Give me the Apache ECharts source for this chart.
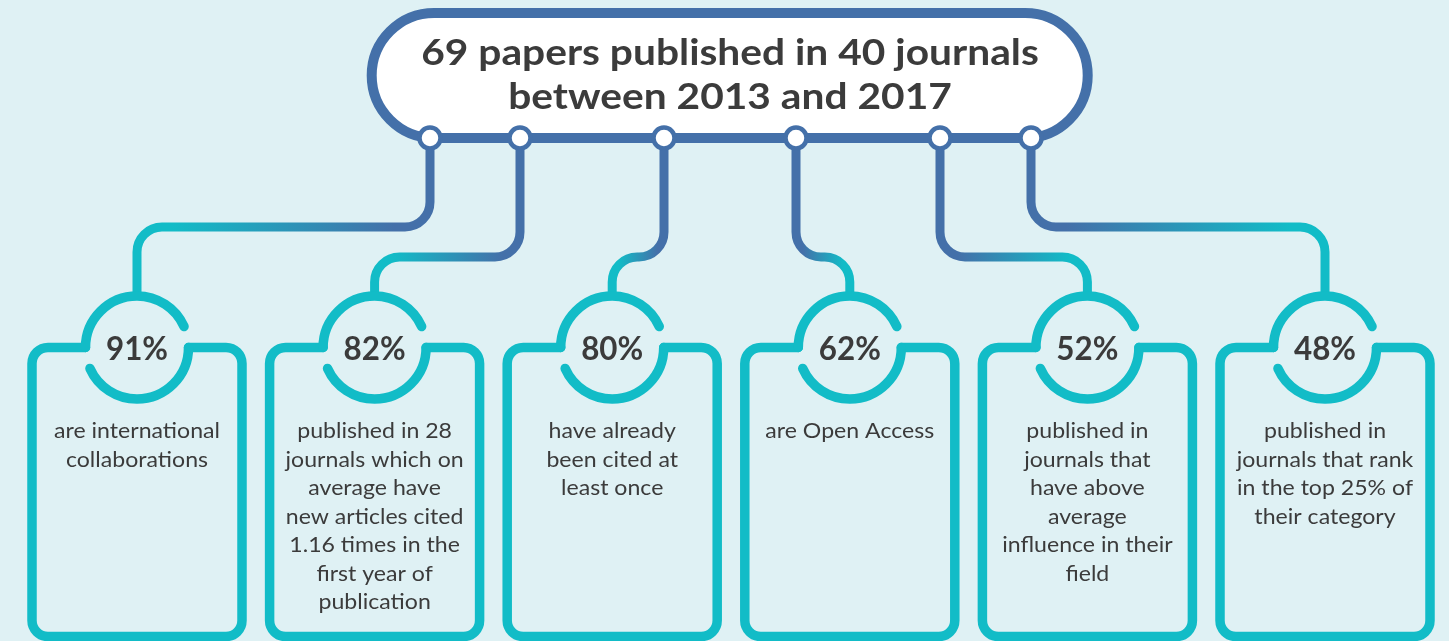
<!DOCTYPE html>
<html>
<head>
<meta charset="utf-8">
<script src="https://cdn.jsdelivr.net/npm/echarts@6/dist/echarts.min.js"></script>
<style>
  html, body { margin: 0; padding: 0; background: #dff1f4; }
  #chart { width: 1449px; height: 641px; }
</style>
</head>
<body>
<div id="chart"></div>
<script>
// ---- data ----
const titleLines = ['69 papers published in 40 journals', 'between 2013 and 2017'];
const percents = ['91%', '82%', '80%', '62%', '52%', '48%'];
const descriptions = [
  ['are international', 'collaborations'],
  ['published in 28', 'journals which on', 'average have', 'new articles cited', '1.16 times in the', 'first year of', 'publication'],
  ['have already', 'been cited at', 'least once'],
  ['are Open Access'],
  ['published in', 'journals that', 'have above', 'average', 'influence in their', 'field'],
  ['published in', 'journals that rank', 'in the top 25% of', 'their category']
];

// ---- layout / style ----
const BLUE = '#4470a9';
const TEAL = '#12bcc7';
const TEXT = '#3b3b3b';
const FONT = 'Lato, "Noto Sans", sans-serif';
const nodeX = [430, 520, 664, 796, 940, 1031];
const nodeY = 138;
const hY = [227, 257, 257, 257, 257, 227];
const box0 = 137, boxStep = 237.6, boxHalfW = 105;
const boxTop = 347.5, boxBottom = 636.5, boxR = 16;
const ringR = 51.5;
const rc = 25;

function connectorPath(nx, cx, hy) {
  const dir = cx < nx ? -1 : 1;
  const s1 = dir < 0 ? 1 : 0, s2 = dir < 0 ? 0 : 1;
  const endY = boxTop - ringR;
  return 'M' + nx + ' ' + nodeY +
    ' L' + nx + ' ' + (hy - rc) +
    ' A' + rc + ' ' + rc + ' 0 0 ' + s1 + ' ' + (nx + dir * rc) + ' ' + hy +
    ' L' + (cx - dir * rc) + ' ' + hy +
    ' A' + rc + ' ' + rc + ' 0 0 ' + s2 + ' ' + cx + ' ' + (hy + rc) +
    ' L' + cx + ' ' + endY;
}

function boxPath(cx) {
  const l = cx - boxHalfW, r = cx + boxHalfW, t = boxTop, b = boxBottom, k = boxR;
  return 'M' + (cx - ringR) + ' ' + t +
    ' L' + (l + k) + ' ' + t +
    ' A' + k + ' ' + k + ' 0 0 0 ' + l + ' ' + (t + k) +
    ' L' + l + ' ' + (b - k) +
    ' A' + k + ' ' + k + ' 0 0 0 ' + (l + k) + ' ' + b +
    ' L' + (r - k) + ' ' + b +
    ' A' + k + ' ' + k + ' 0 0 0 ' + r + ' ' + (b - k) +
    ' L' + r + ' ' + (t + k) +
    ' A' + k + ' ' + k + ' 0 0 0 ' + (r - k) + ' ' + t +
    ' L' + (cx + ringR) + ' ' + t;
}

function ringPaths(cx) {
  const cy = boxTop, R = ringR;
  const a1 = 24 * Math.PI / 180, a2 = 24 * Math.PI / 180;
  const top = 'M' + (cx - R) + ' ' + cy +
    ' A' + R + ' ' + R + ' 0 0 1 ' + (cx + R * Math.cos(a1)) + ' ' + (cy - R * Math.sin(a1));
  const bottom = 'M' + (cx + R) + ' ' + cy +
    ' A' + R + ' ' + R + ' 0 0 1 ' + (cx - R * Math.cos(a2)) + ' ' + (cy + R * Math.sin(a2));
  return [top, bottom];
}

const chart = echarts.init(document.getElementById('chart'), null, { renderer: 'canvas' });

const option = {
  backgroundColor: '#dff1f4',
  animation: false,
  graphic: [
    {
      type: 'rect', z: 0,
      shape: { x: 371.7, y: 13, width: 716, height: 125, r: 62.5 },
      style: { fill: '#ffffff', stroke: BLUE, lineWidth: 10 }
    },
    {
      type: 'text', z: 1, x: 730, y: 53, scaleX: 1.1,
      style: { text: titleLines[0], font: 'bold 37px ' + FONT, fill: TEXT, align: 'center', verticalAlign: 'middle' }
    },
    {
      type: 'text', z: 1, x: 730, y: 97, scaleX: 1.1,
      style: { text: titleLines[1], font: 'bold 37px ' + FONT, fill: TEXT, align: 'center', verticalAlign: 'middle' }
    }
  ],
  series: [{
    type: 'custom',
    coordinateSystem: 'none',
    data: percents.map((p, i) => [i]),
    renderItem: function (params, api) {
      const i = params.dataIndex;
      const cx = box0 + i * boxStep;
      const nx = nodeX[i];
      const hy = hY[i];
      const grad = new echarts.graphic.LinearGradient(nx, 0, cx, 0, [
        { offset: 0, color: BLUE },
        { offset: 0.12, color: BLUE },
        { offset: 0.88, color: TEAL },
        { offset: 1, color: TEAL }
      ], true);
      const rings = ringPaths(cx);
      const lines = descriptions[i];
      return {
        type: 'group',
        children: [
          { type: 'path', shape: { pathData: connectorPath(nx, cx, hy) },
            style: { fill: 'none', stroke: grad, lineWidth: 9, lineCap: 'butt', lineJoin: 'round' } },
          { type: 'circle', shape: { cx: nx, cy: nodeY, r: 10.5 },
            style: { fill: '#ffffff', stroke: BLUE, lineWidth: 4.5 } },
          { type: 'path', shape: { pathData: boxPath(cx) },
            style: { fill: 'none', stroke: TEAL, lineWidth: 9.5, lineCap: 'round', lineJoin: 'round' } },
          { type: 'path', shape: { pathData: rings[0] },
            style: { fill: 'none', stroke: TEAL, lineWidth: 9.5, lineCap: 'round' } },
          { type: 'path', shape: { pathData: rings[1] },
            style: { fill: 'none', stroke: TEAL, lineWidth: 9.5, lineCap: 'round' } },
          { type: 'text', x: cx, y: 349, scaleX: 0.95,
            style: { text: percents[i], font: 'bold 33px ' + FONT, fill: TEXT, align: 'center', verticalAlign: 'middle' } },
          { type: 'text', x: cx, y: 417, scaleX: 1.1,
            style: { text: lines.join('\n'), font: '21px ' + FONT, fill: TEXT, align: 'center', verticalAlign: 'top', lineHeight: 28.5 } }
        ]
      };
    }
  }]
};
chart.setOption(option);
</script>
</body>
</html>
